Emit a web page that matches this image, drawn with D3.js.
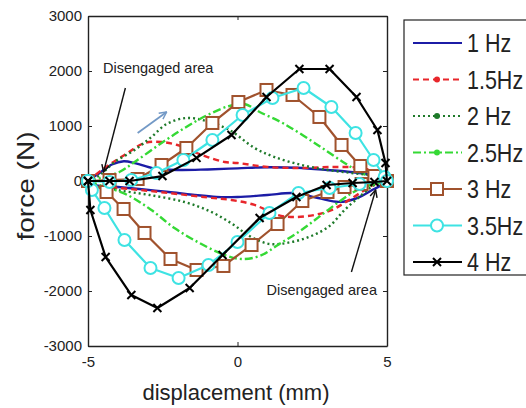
<!DOCTYPE html>
<html>
<head>
<meta charset="utf-8">
<script src="https://cdn.jsdelivr.net/npm/d3@7"></script>
<style>
  body { margin: 0; background: #fff; }
  svg { display: block; font-family: "Liberation Sans", Arial, sans-serif; }
</style>
</head>
<body>
<svg id="chart" width="526" height="408"></svg>
<script>
let hz1Disp = [-5, -4.6, -4.2, -3.8, -3.4, -2.8, -2, -1, 0, 1, 2, 3, 4, 4.6, 5, 4.5, 4, 3.4, 2.7, 1.9, 1, 0, -0.7, -1.5, -2.3, -3.2, -4, -4.8, -5]
let hz1Force = [0, 150, 300, 360, 320, 230, 200, 210, 230, 250, 240, 200, 150, 90, 0, -165, -310, -380, -310, -220, -255, -290, -290, -250, -200, -150, -110, -70, 0]

let hz15Disp = [-5, -4.45, -3.78, -3.11, -2.54, -2.01, -1.44, -1, -0.43, 0, 1, 2.14, 3.24, 4.15, 4.58, 5, 4.6, 4.1, 3.57, 3.14, 2.57, 1.9, 1.34, 0.57, -0.2, -1, -2.3, -4, -4.8, -5]
let hz15Force = [0, 236, 473, 691, 709, 655, 527, 436, 345, 327, 255, 236, 255, 236, 164, 0, -55, -218, -400, -530, -618, -655, -618, -436, -345, -300, -218, -127, -100, 0]

let hz2Disp = [-5, -4.6, -4.11, -3.44, -2.88, -2.37, -1.71, -1.04, -0.27, 0.57, 1.24, 2.14, 3.01, 3.81, 4.58, 5, 4.58, 4.15, 3.58, 3.08, 2.47, 1.81, 1.07, 0.4, -0.17, -0.87, -1.77, -2.94, -4.01, -4.75, -5]
let hz2Force = [0, 109, 345, 564, 800, 1036, 1145, 1091, 927, 600, 436, 291, 200, 145, 91, 0, -73, -255, -527, -818, -1000, -1109, -1145, -1000, -782, -564, -382, -255, -164, -73, 0]

let hz25Disp = [-5, -4.45, -3.95, -3.44, -2.54, -1.77, -1, -0.27, 0.23, 0.74, 1.57, 2.68, 3.58, 4.15, 4.58, 5, 4.58, 4.01, 3.48, 2.81, 2.14, 1.4, 0.74, 0.13, -0.43, -1.27, -2.11, -2.88, -3.68, -4.61, -5]
let hz25Force = [0, 73, 164, 345, 691, 964, 1200, 1364, 1400, 1255, 1036, 655, 327, 145, 55, 0, -55, -164, -345, -618, -891, -1145, -1364, -1418, -1345, -1127, -855, -527, -255, -73, 0]

let hz3Disp = [-5, -4.28, -3.34, -2.54, -1.71, -0.84, 0.03, 0.97, 1.84, 2.74, 3.48, 4.11, 4.58, 5, 4.15, 3.58, 3.01, 2.17, 1.34, 0.47, -0.47, -1.37, -2.24, -3.11, -3.81, -4.38, -5]
let hz3Force = [0, 18, 36, 291, 600, 1055, 1436, 1655, 1564, 1164, 655, 273, 91, 0, -55, -109, -200, -364, -782, -1164, -1545, -1618, -1418, -945, -509, -200, 0]

let hz35Disp = [-5, -4.28, -3.55, -2.71, -1.81, -0.84, 0.17, 1.17, 2.21, 3.14, 3.95, 4.55, 4.92, 5, 4.08, 3.08, 2.04, 1.07, 0, -0.97, -1.97, -2.91, -3.78, -4.45, -4.87, -5]
let hz35Force = [0, -18, 18, 145, 382, 745, 1200, 1509, 1691, 1345, 873, 382, 73, 0, -55, -127, -218, -582, -1109, -1527, -1764, -1582, -1073, -491, -164, 0]

let hz4Disp = [-5, -4.28, -3.61, -2.51, -1.37, -0.2, 0.97, 2.07, 3.08, 3.98, 4.68, 4.95, 5, 4.58, 3.85, 2.98, 1.97, 0.74, -0.5, -1.6, -2.68, -3.55, -4.41, -4.92, -5]
let hz4Force = [0, 0, 0, 90, 420, 836, 1527, 2036, 2036, 1527, 927, 327, 0, -18, -36, -73, -291, -673, -1345, -1945, -2309, -2073, -1382, -527, 0]

let seriesNames = ['1 Hz', '1.5Hz', '2 Hz', '2.5Hz', '3 Hz', '3.5Hz', '4 Hz']
let yTicks = [-3000, -2000, -1000, 0, 1000, 2000, 3000]
let xTicks = [-5, 0, 5]

let series = [
  { name: seriesNames[0], disp: hz1Disp, force: hz1Force, color: '#1c1ca6', dash: null, marker: 'none', smooth: true },
  { name: seriesNames[1], disp: hz15Disp, force: hz15Force, color: '#e8262b', dash: '6,4', marker: 'dot', smooth: true },
  { name: seriesNames[2], disp: hz2Disp, force: hz2Force, color: '#1e7a2a', dash: '2,3', marker: 'dot', smooth: true },
  { name: seriesNames[3], disp: hz25Disp, force: hz25Force, color: '#35d935', dash: '8,3,2,3', marker: 'dot', smooth: true },
  { name: seriesNames[4], disp: hz3Disp, force: hz3Force, color: '#a0522d', dash: null, marker: 'square', smooth: false },
  { name: seriesNames[5], disp: hz35Disp, force: hz35Force, color: '#3ee3e3', dash: null, marker: 'circle', smooth: false },
  { name: seriesNames[6], disp: hz4Disp, force: hz4Force, color: '#000000', dash: null, marker: 'cross', smooth: false }
]

let svg = d3.select('#chart')
let plot = { left: 88, top: 16, right: 387, bottom: 346 }

let x = d3.scaleLinear().domain([-5, 5]).range([plot.left, plot.right])
let y = d3.scaleLinear().domain([-3000, 3000]).range([plot.bottom, plot.top])

// arrow heads
let defs = svg.append('defs')
function arrowHead (id, color) {
  defs.append('marker')
    .attr('id', id)
    .attr('viewBox', '0 0 10 10')
    .attr('refX', 9).attr('refY', 5)
    .attr('markerWidth', 9).attr('markerHeight', 9)
    .attr('markerUnits', 'userSpaceOnUse')
    .attr('orient', 'auto')
    .append('path')
    .attr('d', 'M1,1 L9,5 L1,9')
    .attr('fill', 'none')
    .attr('stroke', color)
    .attr('stroke-width', 1.6)
}
arrowHead('arrowBlack', '#111')
arrowHead('arrowBlue', '#7399c6')

// axes (matlab box with inward ticks)
let axisStyle = g => {
  g.selectAll('path.domain').attr('stroke', '#222').attr('stroke-width', 1.4)
  g.selectAll('line').attr('stroke', '#222').attr('stroke-width', 1)
  g.selectAll('text').attr('fill', '#222').attr('font-size', 15)
}
let plain = d => String(d)

svg.append('g')
  .attr('transform', `translate(${plot.left},0)`)
  .call(d3.axisLeft(y).tickValues(yTicks).tickFormat(plain).tickSizeInner(-4).tickSizeOuter(0).tickPadding(6))
  .call(axisStyle)

svg.append('g')
  .attr('transform', `translate(0,${plot.bottom})`)
  .call(d3.axisBottom(x).tickValues(xTicks).tickFormat(plain).tickSizeInner(-4).tickSizeOuter(0).tickPadding(10))
  .call(axisStyle)

svg.append('g')
  .attr('transform', `translate(0,${plot.top})`)
  .call(d3.axisTop(x).tickValues(xTicks).tickSizeInner(-4).tickSizeOuter(0).tickFormat(''))
  .call(axisStyle)

svg.append('g')
  .attr('transform', `translate(${plot.right},0)`)
  .call(d3.axisRight(y).tickValues(yTicks).tickSizeInner(-4).tickSizeOuter(0).tickFormat(''))
  .call(axisStyle)

// loops
let lines = svg.append('g').attr('class', 'loops')

function drawMarker (g, kind, cx, cy, color) {
  if (kind === 'square') {
    g.append('rect')
      .attr('x', cx - 6).attr('y', cy - 6)
      .attr('width', 12).attr('height', 12)
      .attr('fill', 'white').attr('stroke', color).attr('stroke-width', 2)
  } else if (kind === 'circle') {
    g.append('circle')
      .attr('cx', cx).attr('cy', cy).attr('r', 6)
      .attr('fill', 'white').attr('stroke', color).attr('stroke-width', 2)
  } else if (kind === 'cross') {
    g.append('path')
      .attr('d', `M${cx - 4},${cy - 4}L${cx + 4},${cy + 4}M${cx - 4},${cy + 4}L${cx + 4},${cy - 4}`)
      .attr('stroke', color).attr('stroke-width', 2)
  } else if (kind === 'dot') {
    g.append('circle')
      .attr('cx', cx).attr('cy', cy).attr('r', 3)
      .attr('fill', color)
  }
}

series.forEach(s => {
  let pts = s.disp.map((d, i) => [d, s.force[i]])
  let line = d3.line()
    .x(d => x(d[0]))
    .y(d => y(d[1]))
    .curve(s.smooth ? d3.curveCatmullRom.alpha(0.5) : d3.curveLinear)

  let g = lines.append('g')
  g.append('path')
    .datum(pts)
    .attr('d', line)
    .attr('fill', 'none')
    .attr('stroke', s.color)
    .attr('stroke-width', s.smooth ? 2.4 : 2.2)
    .attr('stroke-dasharray', s.dash)
    .attr('stroke-linejoin', 'round')

  if (!s.smooth) {
    pts.forEach(p => drawMarker(g, s.marker, x(p[0]), y(p[1]), s.color))
  }
})

// annotations
let notes = svg.append('g').attr('fill', '#222')

notes.append('text')
  .attr('x', x(-4.5)).attr('y', y(1964))
  .attr('font-size', 14.5)
  .text('Disengaged area')

notes.append('text')
  .attr('x', x(0.97)).attr('y', y(-2073))
  .attr('font-size', 14.5)
  .text('Disengaged area')

notes.append('line')
  .attr('x1', x(-3.75)).attr('y1', y(1690))
  .attr('x2', x(-4.48)).attr('y2', y(164))
  .attr('stroke', '#111').attr('stroke-width', 1.4)
  .attr('marker-end', 'url(#arrowBlack)')

notes.append('line')
  .attr('x1', x(3.81)).attr('y1', y(-1655))
  .attr('x2', x(4.62)).attr('y2', y(-164))
  .attr('stroke', '#111').attr('stroke-width', 1.4)
  .attr('marker-end', 'url(#arrowBlack)')

notes.append('line')
  .attr('x1', x(-3.34)).attr('y1', y(873))
  .attr('x2', x(-2.37)).attr('y2', y(1255))
  .attr('stroke', '#7399c6').attr('stroke-width', 1.8)
  .attr('marker-end', 'url(#arrowBlue)')

// axis titles
svg.append('text')
  .attr('x', 236).attr('y', 400)
  .attr('text-anchor', 'middle')
  .attr('font-size', 22)
  .attr('fill', '#222')
  .text('displacement (mm)')

svg.append('text')
  .attr('transform', 'translate(34,186) rotate(-90) scale(1.22,1)')
  .attr('text-anchor', 'middle')
  .attr('font-size', 23)
  .attr('fill', '#222')
  .text('force (N)')

// legend
let legend = svg.append('g').attr('class', 'legend')
legend.append('rect')
  .attr('x', 404).attr('y', 20)
  .attr('width', 140).attr('height', 255)
  .attr('fill', 'white').attr('stroke', '#222').attr('stroke-width', 1.2)

let legendY = d3.scalePoint().domain(seriesNames).range([43, 262])

series.forEach(s => {
  let ly = legendY(s.name)
  let g = legend.append('g')
  g.append('line')
    .attr('x1', 413).attr('x2', 462)
    .attr('y1', ly).attr('y2', ly)
    .attr('stroke', s.color).attr('stroke-width', 2.2)
    .attr('stroke-dasharray', s.dash)
  drawMarker(g, s.marker, 437, ly, s.color)
  g.append('text')
    .attr('transform', `translate(467,${ly}) scale(0.86,1)`)
    .attr('dy', '0.36em')
    .attr('font-size', 25)
    .attr('fill', '#222')
    .text(s.name)
})
</script>
</body>
</html>
